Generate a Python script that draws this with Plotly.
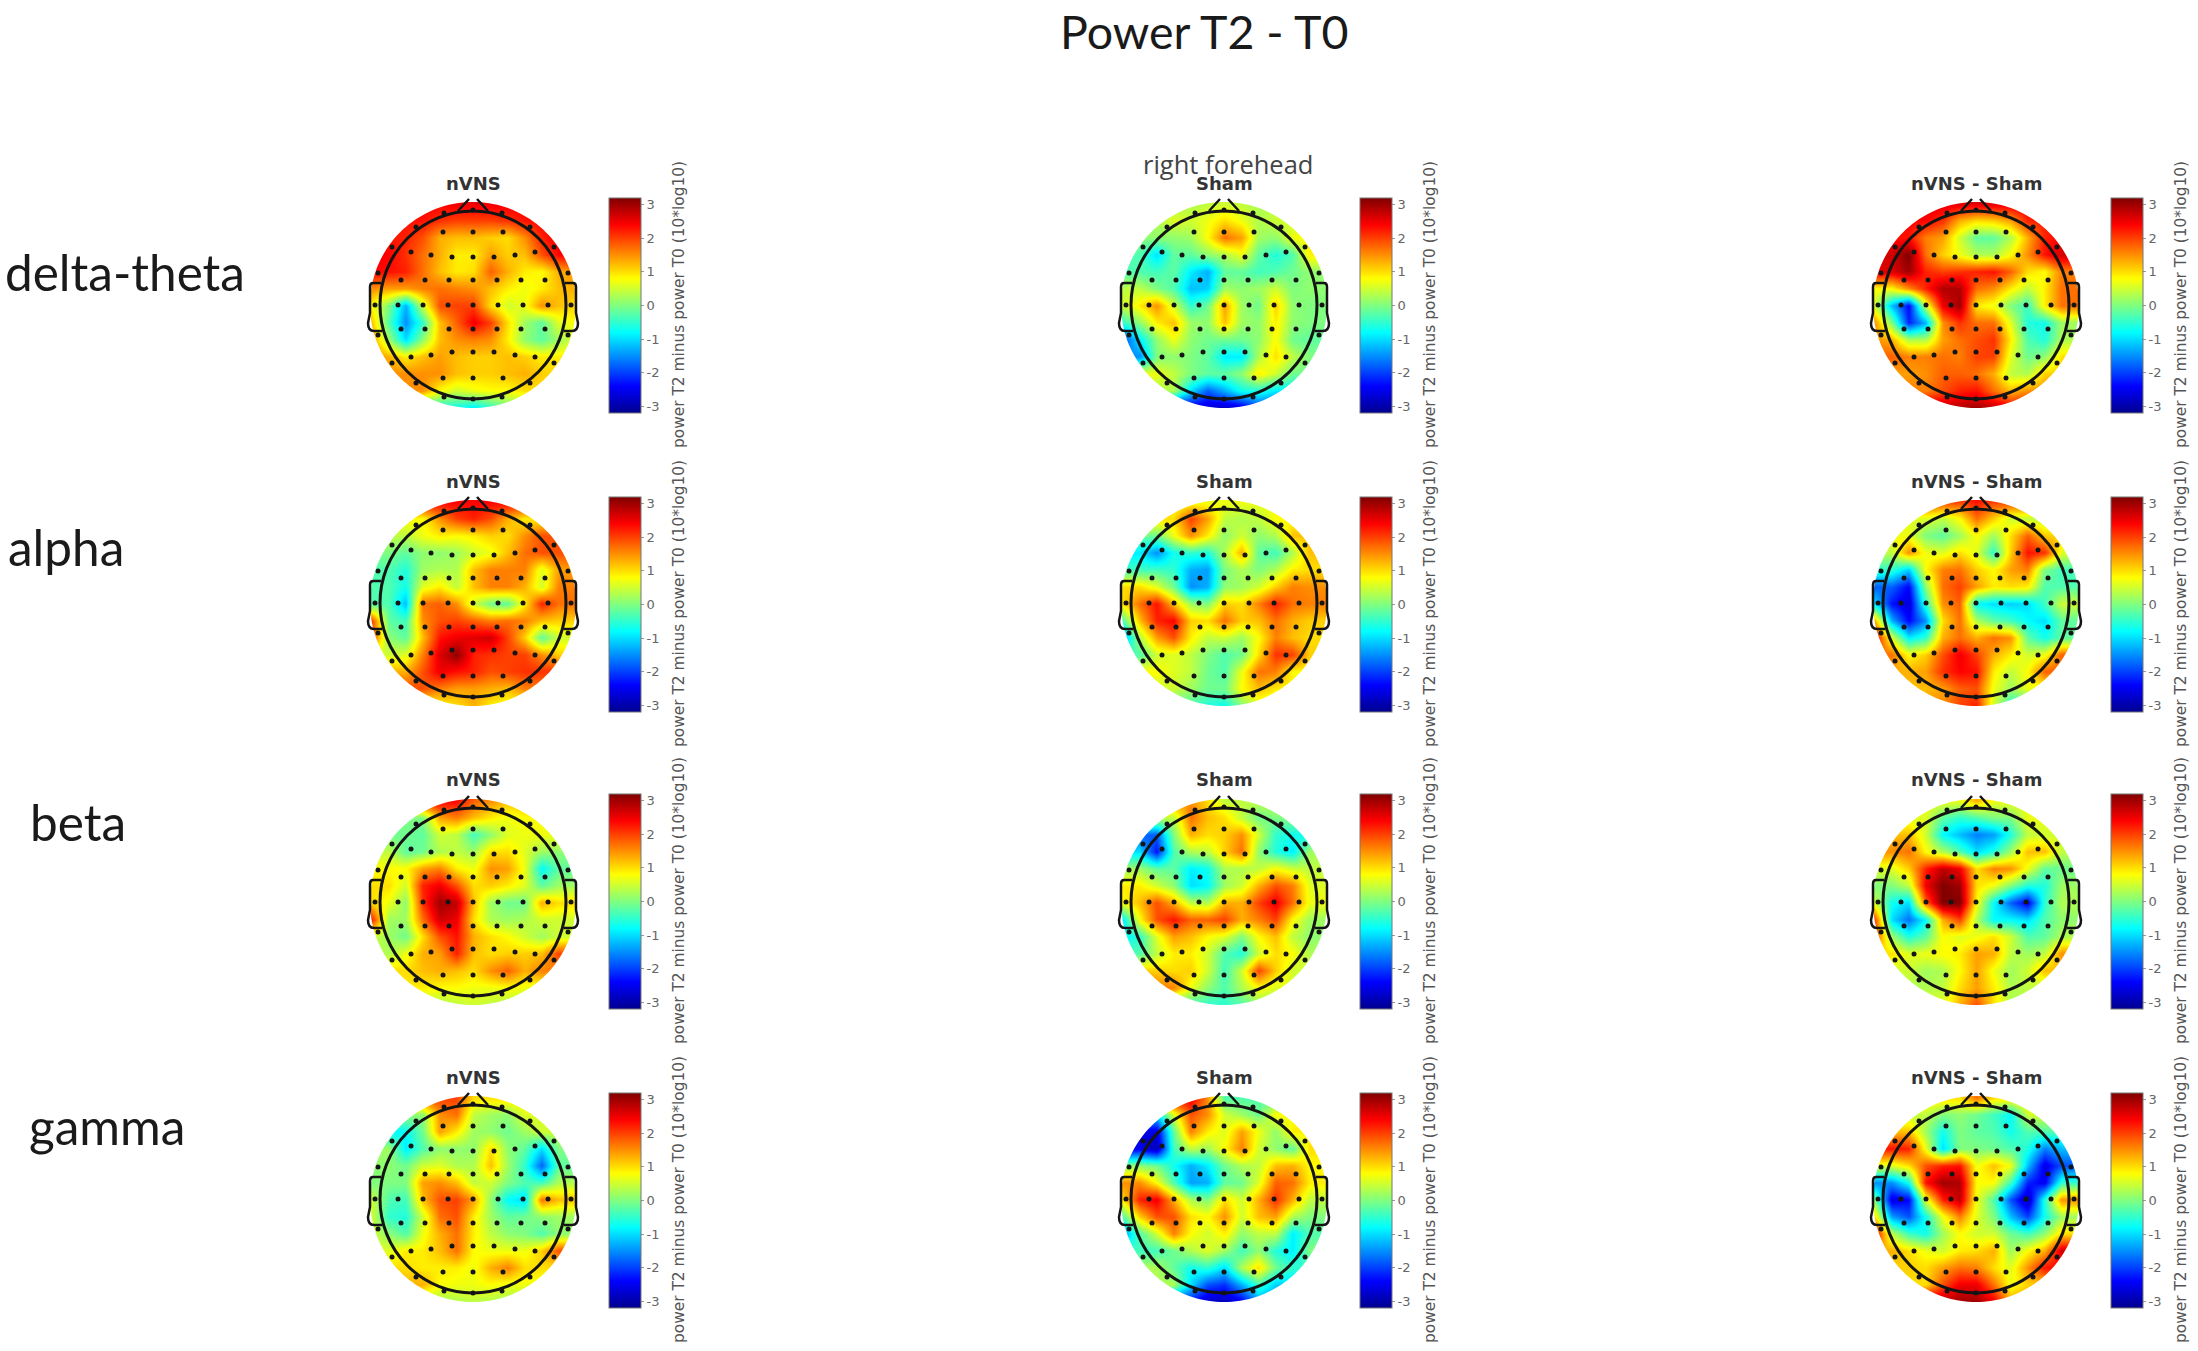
import numpy as np
import plotly.graph_objects as go

W, H = 2198, 1351

# scalp grid, in pixels from the head centre (y grows downwards)
GRID_X = [-102, -85, -68, -51, -34, -17, 0, 17, 34, 51, 68, 85, 102]
GRID_Y = [-102, -85, -68, -51, -34, -17, 0, 17, 34, 51, 68, 85, 102]

ELECTRODE_X = [-30, 0, 30,
               -62, -42, -21, 0, 21, 42, 62,
               -72, -48, -24, 0, 24, 48, 72,
               -75, -50, -25, 0, 25, 50, 75,
               -72, -48, -24, 0, 24, 48, 72,
               -62, -42, -21, 0, 21, 42, 62,
               -30, 0, 30,
               -29, 0, 29, -57, 57, -81, 81, -95, 95, -98, 98, -95, 95, -81, 81, -57, 57, -29, 0, 29]
ELECTRODE_Y = [-73, -73, -73,
               -53, -50, -48, -48, -48, -50, -53,
               -25, -25, -25, -25, -25, -25, -25,
               0, 0, 0, 0, 0, 0, 0,
               24, 24, 24, 24, 24, 24, 24,
               52, 50, 47, 47, 47, 50, 52,
               73, 73, 73,
               -92, -95, -92, -78, -78, -58, -58, -32, -32, 0, 0, 30, 30, 58, 58, 78, 78, 92, 94, 92]

delta_nvns = [
    [2.4, 2.4, 2.4, 2.4, 2.4, 2.5, 2.5, 2.5, 2.5, 2.4, 2.4, 2.4, 2.4],
    [2.3, 2.3, 2.3, 2.3, 2.1, 2.0, 2.0, 2.0, 2.1, 2.3, 2.4, 2.4, 2.4],
    [2.3, 2.3, 2.2, 1.9, 1.3, 1.2, 1.2, 1.1, 1.0, 1.5, 2.2, 2.5, 2.5],
    [2.5, 2.4, 2.1, 1.7, 1.3, 0.9, 0.9, 1.4, 1.1, 1.2, 1.9, 2.4, 2.5],
    [2.4, 2.3, 2.2, 1.7, 1.2, 0.9, 1.0, 1.8, 1.3, 0.9, 0.8, 1.3, 1.5],
    [1.5, 1.4, 1.4, 1.6, 1.7, 1.6, 1.5, 1.2, 0.9, 0.7, 0.9, 1.2, 1.3],
    [0.8, 0.0, -1.3, 0.5, 1.9, 2.0, 2.0, 1.0, 0.5, 0.7, 1.5, 1.2, 1.0],
    [1.2, -0.3, -1.5, -0.5, 1.2, 1.8, 2.5, 2.0, 1.0, 0.2, -0.2, 0.6, 0.8],
    [1.5, 0.2, -1.0, 0.1, 1.2, 1.5, 1.6, 1.5, 0.9, 0.1, -0.2, 0.2, 0.6],
    [1.5, 1.3, 0.9, 1.2, 1.4, 1.2, 1.1, 1.1, 1.2, 1.1, 0.9, 0.9, 0.9],
    [1.5, 1.5, 1.5, 1.5, 1.5, 1.2, 1.1, 1.1, 1.2, 1.3, 1.1, 1.0, 1.0],
    [1.5, 1.5, 1.5, 1.5, 0.8, 0.5, 0.7, 0.8, 0.8, 1.0, 1.0, 1.0, 1.0],
    [-0.7, -0.7, -0.7, -0.7, -0.7, -0.7, -0.9, -0.5, -0.1, 0.0, 0.0, 0.0, 0.0],
]
delta_sham = [
    [0.3, 0.3, 0.3, 0.3, 0.3, 0.4, 0.5, 0.4, 0.3, 0.3, 0.3, 0.3, 0.3],
    [0.3, 0.3, 0.3, 0.6, 0.5, 0.7, 1.0, 0.7, 0.3, 0.5, 0.5, 0.5, 0.5],
    [0.1, 0.1, 0.1, 0.1, 0.2, 0.8, 1.7, 1.4, 0.2, 0.1, 0.7, 0.9, 0.9],
    [-0.3, -0.3, -1.0, -0.2, -0.2, 0.1, 0.3, 0.7, -0.2, -0.6, -0.3, 0.9, 0.9],
    [-0.3, -0.3, -0.4, -0.2, -0.9, -1.3, -0.2, -0.2, -0.4, -0.3, -0.1, 0.1, 0.1],
    [0.4, 0.4, 0.0, -0.3, -1.2, -1.1, 0.2, 0.1, 0.2, 0.5, 0.0, 0.1, 0.1],
    [0.5, 0.9, 1.5, 0.5, -0.5, -0.1, 1.4, 0.2, -0.1, 1.1, 0.1, 0.0, 0.0],
    [-0.5, 0.1, 0.9, 1.2, 0.2, 0.1, 1.2, 0.2, 0.1, 0.9, 0.1, 0.0, 0.0],
    [-2.0, -0.9, 0.1, 0.7, 0.1, -0.1, -0.1, -0.1, 0.1, 0.8, -0.1, -0.2, -0.2],
    [-1.5, -1.5, 0.0, 0.1, 0.0, -0.2, -0.9, -0.9, 0.3, 1.0, 0.4, 0.0, 0.0],
    [0.7, 0.7, 0.7, 0.4, 0.0, -0.2, -0.2, 0.1, 0.9, 0.5, -0.1, -0.1, -0.1],
    [0.3, 0.3, 0.3, 0.3, -1.0, -1.8, -1.3, -0.7, -0.6, -0.9, -0.9, -0.9, -0.9],
    [-2.6, -2.6, -2.6, -2.6, -2.6, -2.7, -2.8, -2.6, -2.0, -2.0, -2.0, -2.0, -2.0],
]
delta_diff = [
    [2.6, 2.6, 2.6, 2.6, 2.6, 2.6, 2.6, 2.6, 2.6, 2.6, 2.6, 2.6, 2.6],
    [2.4, 2.4, 2.4, 2.4, 2.1, 1.3, 1.0, 1.1, 1.4, 2.2, 2.2, 2.2, 2.2],
    [2.3, 2.3, 2.3, 1.6, 1.4, 0.5, -0.2, -0.2, 0.3, 1.3, 2.2, 2.4, 2.4],
    [2.7, 2.7, 3.2, 1.7, 1.1, 0.7, 0.3, 0.3, 0.8, 1.5, 2.3, 2.7, 2.7],
    [2.6, 2.6, 3.0, 2.2, 2.0, 2.1, 2.2, 2.3, 1.8, 1.0, 0.8, 1.6, 1.6],
    [0.8, 0.8, 1.5, 2.2, 2.9, 2.9, 1.7, 1.5, 0.9, 0.4, 0.9, 1.7, 1.7],
    [0.5, -1.2, -2.4, 0.5, 2.5, 3.0, 0.9, 0.7, 0.0, -0.4, 0.9, 1.7, 1.7],
    [1.5, 0.0, -2.2, -1.3, 1.5, 2.1, 1.7, 1.7, 0.6, -0.6, -0.7, 0.2, 0.2],
    [1.5, 1.3, 0.3, 0.3, 1.4, 1.7, 1.9, 2.1, 0.9, -0.3, -0.6, 0.3, 0.3],
    [1.8, 1.8, 1.6, 1.6, 1.7, 1.6, 2.0, 2.0, 0.6, -0.1, 0.1, 1.0, 1.0],
    [1.4, 1.4, 1.4, 1.5, 1.8, 1.8, 1.7, 1.3, 0.4, 0.3, 1.1, 1.1, 1.1],
    [1.6, 1.6, 1.6, 1.6, 1.9, 2.2, 2.3, 1.7, 1.2, 1.5, 1.5, 1.5, 1.5],
    [2.8, 2.8, 2.8, 2.8, 2.8, 2.9, 3.0, 2.8, 2.5, 2.5, 2.5, 2.5, 2.5],
]
alpha_nvns = [
    [2.4, 2.4, 2.4, 2.4, 2.4, 2.4, 2.4, 2.4, 2.4, 2.4, 2.4, 2.4, 2.4],
    [0.8, 0.8, 0.8, 0.8, 1.5, 2.0, 2.2, 1.9, 1.3, 0.9, 0.9, 0.9, 0.9],
    [0.4, 0.4, 0.4, 0.7, 0.9, 0.8, 0.9, 1.1, 1.0, 1.5, 1.9, 1.9, 1.9],
    [0.0, 0.0, -0.2, 0.1, 0.1, 0.2, 0.5, 0.7, 1.2, 1.7, 1.9, 1.9, 1.9],
    [-0.3, -0.3, -0.6, 0.2, 0.3, 0.3, 1.2, 1.6, 1.6, 1.6, 0.6, 1.4, 1.4],
    [-0.3, -0.3, -0.7, 0.6, 0.9, 0.4, 1.2, 1.6, 1.6, 1.3, 0.5, 1.6, 1.6],
    [-0.3, -0.3, -1.2, 1.7, 1.8, 1.5, 0.5, -0.1, -0.2, 0.9, 2.2, 1.7, 1.7],
    [2.0, -0.2, -0.4, 1.5, 1.9, 2.0, 1.8, 1.6, 1.7, 1.6, 1.2, 1.1, 1.1],
    [2.0, 0.1, -0.2, 1.2, 2.3, 2.5, 2.6, 2.7, 2.0, 1.1, -0.2, 0.5, 0.5],
    [0.5, 0.5, 0.6, 1.6, 2.6, 3.1, 2.2, 2.1, 2.0, 2.0, 1.5, 1.1, 1.1],
    [1.3, 1.3, 1.3, 1.9, 2.5, 2.3, 2.2, 1.9, 2.0, 2.1, 2.1, 2.1, 2.1],
    [1.9, 1.9, 1.9, 1.9, 1.6, 1.4, 1.4, 1.3, 1.2, 1.6, 1.6, 1.6, 1.6],
    [0.8, 0.8, 0.8, 0.8, 0.8, 1.0, 1.3, 0.9, 0.7, 0.7, 0.7, 0.7, 0.7],
]
alpha_sham = [
    [0.7, 0.7, 0.7, 0.7, 0.7, 0.7, 0.7, 0.7, 0.7, 0.7, 0.7, 0.7, 0.7],
    [1.0, 1.0, 1.0, 1.0, 2.0, 1.4, 0.4, 0.3, 0.4, 0.8, 0.8, 0.8, 0.8],
    [-0.1, -0.1, -0.1, 0.7, 1.5, 0.9, 0.1, 0.5, 0.1, 0.3, 1.2, 1.2, 1.2],
    [-0.9, -0.9, -1.5, -0.7, -0.5, -0.6, 0.3, 1.3, -0.2, -0.4, 0.3, 1.2, 1.2],
    [-0.4, -0.4, -0.4, -0.5, -1.3, -1.4, 0.0, 0.3, 0.0, 0.3, 0.9, 1.0, 1.0],
    [1.0, 1.0, 0.6, -0.1, -1.5, -1.3, 0.1, 0.2, 0.5, 1.1, 1.6, 1.5, 1.5],
    [1.0, 1.7, 2.3, 1.2, 0.2, 0.0, 1.1, 1.0, 1.6, 2.2, 1.7, 1.6, 1.6],
    [-0.3, 1.2, 2.2, 2.4, 1.1, 1.0, 1.7, 1.1, 1.2, 1.7, 1.3, 1.1, 1.1],
    [-1.5, 0.3, 1.4, 1.9, 0.9, 0.4, 0.5, 0.2, 0.8, 1.6, 1.2, 1.0, 1.0],
    [-0.3, -0.3, 0.5, 0.6, 0.4, 0.0, -0.3, -0.1, 1.0, 2.1, 2.0, 1.1, 1.1],
    [0.8, 0.8, 0.8, 0.6, 0.4, -0.1, -0.3, 0.7, 1.7, 1.6, 0.8, 0.8, 0.8],
    [0.5, 0.5, 0.5, 0.5, 0.2, -0.1, -0.1, 0.8, 1.2, 0.9, 0.9, 0.9, 0.9],
    [-0.3, -0.3, -0.3, -0.3, -0.3, -0.6, -0.7, 0.0, 0.5, 0.5, 0.5, 0.5, 0.5],
]
alpha_diff = [
    [2.0, 2.0, 2.0, 2.0, 2.0, 2.0, 2.3, 2.0, 2.0, 2.0, 2.0, 2.0, 2.0],
    [0.6, 0.6, 0.6, 0.6, 0.4, 0.8, 1.7, 1.1, 0.5, 0.4, 0.4, 0.4, 0.4],
    [0.7, 0.7, 0.7, 0.0, -0.2, 0.2, 0.8, 0.2, 1.0, 1.8, 1.1, 1.1, 1.1],
    [0.4, 0.4, 1.5, 0.7, 0.6, 1.0, 0.6, -0.5, 1.1, 2.3, 2.1, 0.6, 0.6],
    [-0.5, -0.5, -1.1, 0.8, 1.6, 1.7, 1.1, 0.8, 1.4, 1.6, 0.0, -0.4, -0.4],
    [-1.8, -1.8, -2.4, 0.1, 1.7, 2.0, 1.4, 0.9, 1.0, 0.9, -0.3, -0.3, -0.3],
    [-1.0, -2.3, -2.7, -0.5, 1.5, 1.8, -0.8, -1.0, -1.1, -1.0, -0.4, 0.5, 0.5],
    [1.3, -1.3, -2.4, -1.5, 1.0, 1.7, 0.3, -0.2, -0.4, -0.8, -1.0, -0.2, -0.2],
    [2.5, 0.6, -0.9, -0.5, 1.3, 1.7, 1.3, 1.7, 1.5, -0.2, -0.7, -0.2, -0.2],
    [1.7, 1.7, 0.8, 1.1, 1.9, 2.5, 2.0, 1.3, 0.9, 0.5, 0.7, 1.8, 1.8],
    [1.3, 1.3, 1.3, 1.4, 2.1, 2.4, 2.3, 0.9, 0.4, 0.8, 1.8, 1.8, 1.8],
    [1.2, 1.2, 1.2, 1.2, 1.4, 1.8, 1.9, 0.7, 0.2, 0.7, 0.7, 0.7, 0.7],
    [1.5, 1.5, 1.5, 1.5, 1.5, 2.0, 2.2, 0.5, -0.6, -0.6, -0.6, -0.6, -0.6],
]
beta_nvns = [
    [2.4, 2.4, 2.4, 2.4, 2.4, 2.4, 1.8, 1.5, 1.2, 1.2, 1.2, 1.2, 1.2],
    [0.0, 0.0, 0.0, 0.0, 1.4, 1.6, 1.2, 0.9, 0.7, 0.8, 0.8, 0.8, 0.8],
    [-0.1, -0.1, -0.1, -0.2, 0.5, 0.4, -0.4, 0.1, 0.6, 0.7, 0.7, 0.7, 0.7],
    [0.4, 0.4, -0.2, -0.1, 0.3, 0.4, 0.2, 1.0, 1.0, 0.6, 0.2, 0.1, 0.1],
    [0.8, 0.8, 0.8, 1.4, 1.6, 0.9, 0.7, 1.5, 1.4, 0.7, -0.8, -0.2, -0.2],
    [1.0, 1.0, 0.5, 2.2, 2.5, 1.9, 1.0, 1.1, 0.9, 0.6, -0.2, 0.2, 0.2],
    [1.0, 0.7, 0.1, 2.1, 3.0, 2.8, 1.2, 0.2, -0.1, -0.1, 1.3, 1.0, 1.0],
    [2.2, 0.2, 0.2, 1.7, 2.7, 2.5, 1.0, 0.3, 0.2, 0.3, 0.5, 0.5, 0.5],
    [0.5, 0.2, -0.1, 1.0, 1.9, 2.3, 1.3, 1.0, 0.8, 0.5, 0.2, 0.5, 0.5],
    [0.3, 0.3, 0.7, 1.3, 1.4, 2.2, 1.2, 1.0, 1.1, 1.1, 1.2, 2.0, 2.0],
    [1.0, 1.0, 1.0, 1.2, 1.3, 1.2, 1.0, 1.5, 1.8, 1.3, 1.6, 1.6, 1.6],
    [0.9, 0.9, 0.9, 0.9, 0.8, 0.8, 0.7, 0.7, 0.8, 0.7, 0.7, 0.7, 0.7],
    [0.3, 0.3, 0.3, 0.3, 0.3, 0.4, 0.5, 0.4, 0.3, 0.3, 0.3, 0.3, 0.3],
]
beta_sham = [
    [1.5, 1.5, 1.5, 1.5, 1.5, 1.0, 0.4, 0.4, 0.4, 0.4, 0.4, 0.4, 0.4],
    [0.4, 0.4, 0.4, 0.4, 1.7, 1.2, 1.0, 0.4, -0.1, 0.0, 0.0, 0.0, 0.0],
    [-1.8, -1.8, -1.8, 0.0, 1.3, 1.0, 1.1, 1.5, 0.5, -0.5, -0.7, -0.7, -0.7],
    [-1.0, -1.0, -2.3, -0.3, 0.3, 0.4, 1.1, 1.7, 0.1, -0.6, -0.9, 0.2, 0.2],
    [0.2, 0.2, -0.2, -0.2, -0.9, -0.7, 0.3, 0.3, 0.4, 0.8, 0.5, 0.4, 0.4],
    [0.9, 0.9, 0.5, 0.1, -1.0, -0.8, 0.2, 0.5, 1.3, 1.9, 1.6, 0.6, 0.6],
    [0.8, 1.2, 1.9, 1.3, 0.4, 0.3, 1.3, 1.3, 2.0, 2.5, 1.7, 0.7, 0.7],
    [-0.9, 0.8, 1.9, 2.3, 1.8, 1.8, 2.0, 1.3, 1.6, 2.0, 0.8, 0.2, 0.2],
    [-0.9, -0.5, 0.6, 1.4, 1.2, 0.8, 0.6, 0.0, 0.8, 1.2, 0.4, 0.1, 0.1],
    [-0.3, -0.3, 0.4, 0.9, 0.9, 0.5, -0.3, -0.6, 0.5, 1.0, 0.8, 0.3, 0.3],
    [1.1, 1.1, 1.1, 1.0, 1.1, 0.5, -0.4, 0.5, 2.0, 1.1, 0.5, 0.5, 0.5],
    [1.6, 1.6, 1.6, 1.6, 0.7, 0.1, -0.3, 0.3, 0.8, 0.6, 0.6, 0.6, 0.6],
    [-0.4, -0.4, -0.4, -0.4, -0.4, -0.5, -0.5, -0.3, 0.1, 0.1, 0.1, 0.1, 0.1],
]
beta_diff = [
    [0.7, 0.7, 0.7, 0.7, 0.7, 0.7, 1.3, 0.7, 0.7, 0.7, 0.7, 0.7, 0.7],
    [0.6, 0.6, 0.6, 0.6, -0.2, -0.5, -0.3, 0.0, 0.0, 0.7, 0.7, 0.7, 0.7],
    [1.2, 1.2, 1.2, 0.5, -0.8, -1.2, -1.6, -1.4, -0.6, 0.4, 0.5, 0.5, 0.5],
    [1.5, 1.5, 1.7, 0.8, 0.3, -0.3, -1.0, -0.6, 0.2, 1.2, 1.2, 0.4, 0.4],
    [0.6, 0.6, 1.1, 2.2, 2.8, 2.5, 1.0, 1.6, 1.5, 0.7, -0.2, -0.1, -0.1],
    [0.0, 0.0, 0.4, 2.5, 3.2, 3.0, 1.0, 0.7, 0.0, -0.6, -0.6, 0.2, 0.2],
    [0.5, -0.7, -1.0, 1.8, 3.2, 3.2, 0.8, -0.8, -1.8, -2.5, -0.5, 0.3, 0.3],
    [2.0, -1.0, -1.7, -0.8, 1.3, 2.0, 0.3, -0.8, -0.8, -1.0, -0.3, 0.1, 0.1],
    [2.0, 0.2, -0.6, -0.2, 0.8, 0.6, 0.7, 1.0, 0.5, -0.3, -0.2, 0.3, 0.3],
    [1.0, 1.0, 0.6, 0.7, 0.8, 0.9, 1.4, 1.3, 0.4, 0.2, 0.4, 1.5, 1.5],
    [0.5, 0.5, 0.5, 0.2, 0.3, 0.8, 1.4, 0.7, 0.2, 0.5, 1.2, 1.2, 1.2],
    [0.3, 0.3, 0.3, 0.3, 0.4, 1.0, 1.4, 0.9, 0.3, 0.4, 0.4, 0.4, 0.4],
    [0.6, 0.6, 0.6, 0.6, 0.6, 1.3, 1.9, 1.0, 0.3, 0.3, 0.3, 0.3, 0.3],
]
gamma_nvns = [
    [2.0, 2.0, 2.0, 2.0, 2.0, 2.0, 1.0, 1.0, 1.0, 1.0, 1.0, 1.0, 1.0],
    [0.1, 0.1, 0.1, 0.1, 1.5, 1.7, 0.4, 0.2, 0.1, 0.6, 0.6, 0.6, 0.6],
    [-0.8, -0.8, -0.8, -0.1, 1.4, 0.9, 0.2, 0.1, -0.1, 0.2, 0.5, 0.5, 0.5],
    [0.2, 0.2, -0.9, -0.3, 0.1, 0.1, 0.1, 1.0, 0.1, -0.2, -1.0, 0.0, 0.0],
    [0.1, 0.1, -0.1, 0.5, 0.6, 0.3, 0.3, 1.2, 0.2, -0.5, -1.8, -0.2, -0.2],
    [0.0, 0.0, 0.0, 1.4, 1.5, 1.2, 0.4, 0.5, 0.0, -0.3, -0.4, 0.3, 0.3],
    [0.5, -0.3, -0.4, 1.2, 1.9, 2.0, 1.4, 0.1, -0.8, -1.0, 1.7, 1.2, 1.2],
    [0.5, -0.5, -0.6, 0.5, 1.7, 1.9, 0.9, 0.2, -0.2, -0.1, 0.1, 0.2, 0.2],
    [0.5, 0.1, -0.3, 0.7, 1.3, 1.7, 0.9, 0.4, 0.1, 0.0, -0.3, 0.1, 0.1],
    [0.6, 0.6, 0.9, 0.9, 1.2, 1.7, 0.8, 0.7, 0.7, 0.7, 1.1, 1.9, 1.9],
    [1.0, 1.0, 1.0, 0.9, 0.9, 0.9, 0.7, 1.3, 1.6, 1.0, 1.0, 1.0, 1.0],
    [1.3, 1.3, 1.3, 1.3, 0.8, 0.7, 0.7, 0.8, 0.7, 0.7, 0.7, 0.7, 0.7],
    [0.2, 0.2, 0.2, 0.2, 0.2, 0.3, 0.4, 0.3, 0.2, 0.2, 0.2, 0.2, 0.2],
]
gamma_sham = [
    [2.5, 2.5, 2.5, 2.5, 2.5, 1.5, -0.3, -0.3, -0.3, -0.3, -0.3, -0.3, -0.3],
    [-1.0, -1.0, -1.0, 0.6, 1.9, 1.5, 0.5, 0.2, -0.1, 0.8, 0.8, 0.8, 0.8],
    [-2.6, -2.6, -2.6, -0.2, 1.6, 0.9, 0.6, 1.4, 0.7, 0.1, 0.9, 0.9, 0.9],
    [-2.5, -2.5, -2.9, -0.4, 0.4, 0.2, 0.8, 1.6, 0.5, 0.1, -0.2, 1.0, 1.0],
    [0.1, 0.1, -0.1, -0.7, -1.3, -0.9, -0.1, 0.3, 0.4, 1.2, 1.3, 0.8, 0.8],
    [1.5, 1.5, 0.8, -0.3, -1.4, -1.3, -0.2, -0.1, 0.6, 1.8, 1.7, 0.9, 0.9],
    [1.0, 2.2, 2.5, 1.3, 0.3, 0.0, 1.0, 0.5, 1.3, 2.1, 1.3, 0.4, 0.4],
    [-0.3, 1.1, 1.9, 1.9, 1.0, 0.8, 1.5, 0.5, 1.2, 1.4, 0.3, 0.0, 0.0],
    [-1.5, -0.3, 0.5, 1.6, 0.8, 0.5, 0.9, 0.1, 0.4, 0.4, -0.9, -0.3, -0.3],
    [-0.4, -0.4, -0.4, -0.1, 0.3, 0.6, 0.2, -0.4, 0.1, -0.6, -0.9, 0.0, 0.0],
    [0.3, 0.3, 0.3, -0.2, -0.7, -0.5, -1.0, 0.3, 1.0, -0.1, -0.5, -0.5, -0.5],
    [0.3, 0.3, 0.3, 0.3, -1.0, -1.9, -2.1, -1.3, -0.4, -1.1, -1.1, -1.1, -1.1],
    [-2.3, -2.3, -2.3, -2.3, -2.3, -2.8, -2.9, -2.5, -1.5, -1.5, -1.5, -1.5, -1.5],
]
gamma_diff = [
    [1.0, 1.0, 1.0, 1.0, 1.0, 1.0, 1.7, 1.0, 1.0, 1.0, 1.0, 1.0, 1.0],
    [0.4, 0.4, 0.4, 0.4, 0.0, 0.1, -0.1, -0.4, -0.8, 0.5, 0.5, 0.5, 0.5],
    [1.2, 1.2, 1.2, 0.2, -0.7, 0.0, -0.2, -0.3, -0.7, -0.3, -0.3, -0.3, -0.3],
    [2.3, 2.3, 2.2, 0.7, -1.0, 0.0, 0.0, -0.1, -0.3, -0.6, -1.6, -1.2, -1.2],
    [0.6, 0.6, 1.0, 1.9, 2.2, 2.3, 0.7, 1.2, 0.7, -1.2, -2.6, -1.9, -1.9],
    [-1.5, -1.5, -0.7, 2.3, 3.0, 2.9, 0.8, 0.8, -0.4, -2.2, -2.5, -0.5, -0.5],
    [0.0, -2.6, -2.4, 0.6, 2.2, 2.8, 0.7, -0.3, -1.9, -2.9, -0.6, 1.5, 1.5],
    [1.0, -1.4, -1.9, -0.7, 0.7, 1.6, 0.6, 0.0, -1.2, -2.0, -0.7, 0.2, 0.2],
    [2.5, 0.4, -0.4, -0.7, 0.2, 0.8, 0.5, 0.5, -0.1, -0.4, 0.1, 1.0, 1.0],
    [1.3, 1.3, 1.0, 0.7, 0.5, 0.9, 1.0, 1.3, 0.2, 0.8, 1.3, 2.7, 2.7],
    [1.1, 1.1, 1.1, 1.0, 1.4, 1.7, 1.6, 1.0, 0.6, 1.5, 2.3, 2.3, 2.3],
    [1.0, 1.0, 1.0, 1.0, 1.9, 2.5, 2.5, 1.7, 0.7, 1.1, 1.1, 1.1, 1.1],
    [2.9, 2.9, 2.9, 2.9, 2.9, 3.0, 3.0, 2.5, 1.4, 1.4, 1.4, 1.4, 1.4],
]

maps = [
    [delta_nvns, delta_sham, delta_diff],
    [alpha_nvns, alpha_sham, alpha_diff],
    [beta_nvns, beta_sham, beta_diff],
    [gamma_nvns, gamma_sham, gamma_diff],
]
map_titles = ["nVNS", "Sham", "nVNS - Sham"]
band_labels = ["delta-theta", "alpha", "beta", "gamma"]
tick_vals = [-3, -2, -1, 0, 1, 2, 3]
tick_text = ["-3", "-2", "-1", "0", "1", "2", "3"]
bar_title = "power T2 minus power T0 (10*log10)"

jet = [[0, "#00008f"], [0.125, "#0000ff"], [0.375, "#00ffff"], [0.625, "#ffff00"], [0.875, "#ff0000"], [1, "#800000"]]

# pixel layout of the picture
col_cx = [473, 1224, 1976]
row_cy = [305, 603, 902, 1199]
bar_left = [609, 1360, 2111]
bar_top = [198, 497, 794, 1093]
band_x = [125, 66, 78, 107]
band_y = [272, 547, 822, 1126]
R = 114
DISC = 103

def px(x):
    return x / W

def py(y):
    return 1 - y / H

def label(text, x, y, font, angle=0):
    return dict(text=text, x=px(x), y=py(y), xref="paper", yref="paper", showarrow=False,
                xanchor="center", yanchor="middle", textangle=angle, font=font)

# white ring hiding the square corners of the heatmap around the scalp disc
ang = np.linspace(0, 2 * np.pi, 160, endpoint=False)
mask_path = f"M{-R},{-R} L{R},{-R} L{R},{R} L{-R},{R} Z M" + " L".join(
    f"{DISC * np.cos(a):.2f},{DISC * np.sin(a):.2f}" for a in ang) + " Z"
ear_l = "M-92,-22 L-100,-22 Q-103,-22 -103,-18 L-103,8 L-105,18 Q-105,26 -99,26 L-91,26"
ear_r = "M92,-22 L100,-22 Q103,-22 103,-18 L103,8 L105,18 Q105,26 99,26 L91,26"
nose_l = "M-15,-94 L-4,-106"
nose_r = "M15,-94 L4,-106"

fig = go.Figure()
layout = {}
shapes = []
annotations = []

n = 0
for r, cy in enumerate(row_cy):
    for c, cx in enumerate(col_cx):
        n += 1
        xa, ya = f"x{n}", f"y{n}"
        fig.add_trace(go.Heatmap(
            x=GRID_X, y=GRID_Y, z=maps[r][c], xaxis=xa, yaxis=ya,
            zmin=-3.2, zmax=3.2, zsmooth="best", colorscale=jet, hoverinfo="skip",
            colorbar=dict(
                x=px(bar_left[c]), xanchor="left", xpad=0,
                y=py(bar_top[r]), yanchor="top", ypad=0,
                len=215, lenmode="pixels", thickness=32, thicknessmode="pixels",
                outlinecolor="#777777", outlinewidth=1,
                tickmode="array", tickvals=tick_vals, ticktext=tick_text,
                ticks="outside", ticklen=3, tickcolor="#999999",
                tickfont=dict(family="DejaVu Sans", size=13, color="#666666"),
            ),
        ))
        fig.add_trace(go.Scatter(
            x=ELECTRODE_X, y=ELECTRODE_Y, xaxis=xa, yaxis=ya, mode="markers",
            marker=dict(size=5, color="#151515"), hoverinfo="skip", showlegend=False,
        ))
        suffix = "" if n == 1 else str(n)
        layout["xaxis" + suffix] = dict(domain=[px(cx - R), px(cx + R)], range=[-R, R], visible=False, anchor=ya)
        layout["yaxis" + suffix] = dict(domain=[py(cy + R), py(cy - R)], range=[R, -R], visible=False, anchor=xa)

        head = dict(xref=xa, yref=ya, layer="above")
        shapes.append(dict(type="path", path=mask_path, fillcolor="white", line_width=0, fillrule="evenodd", **head))
        shapes.append(dict(type="circle", x0=-93, x1=93, y0=-94, y1=94, line=dict(color="#141414", width=3), **head))
        for p in [nose_l, nose_r, ear_l, ear_r]:
            shapes.append(dict(type="path", path=p, line=dict(color="#141414", width=2.5), **head))

        annotations.append(label(f"<b>{map_titles[c]}</b>", cx, cy - 122,
                                 dict(family="DejaVu Sans", size=18, color="#333333")))
        annotations.append(label(bar_title, bar_left[c] + 70, bar_top[r] + 107,
                                 dict(family="DejaVu Sans", size=15.4, color="#555555"), angle=-90))

for text, x, y in zip(band_labels, band_x, band_y):
    annotations.append(label(text, x, y, dict(family="Lato", size=49.5, color="#1a1a1a")))
annotations.append(label("Power T2 - T0", 1204, 31, dict(family="Lato", size=46.5, color="#1a1a1a")))
annotations.append(label("right forehead", 1228, 164, dict(family="Open Sans", size=25.5, color="#444444")))

fig.update_layout(
    width=W, height=H, margin=dict(l=0, r=0, t=0, b=0, autoexpand=False),
    paper_bgcolor="white", plot_bgcolor="white", showlegend=False,
    shapes=shapes, annotations=annotations, **layout,
)

fig.write_html("out.html", config={"displayModeBar": False}, post_script="document.body.style.margin='0';")
